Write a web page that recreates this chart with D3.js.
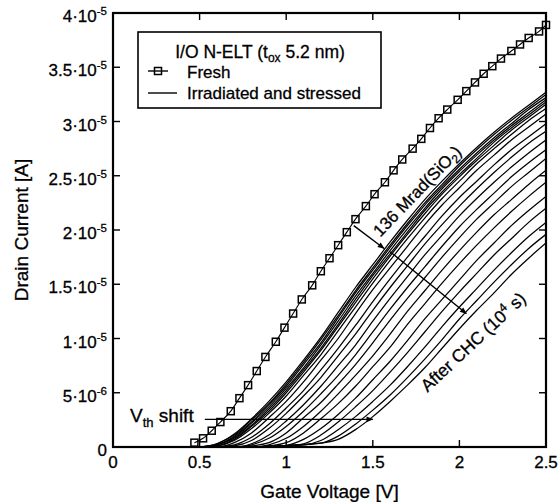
<!DOCTYPE html>
<meta charset="utf-8">
<style>
	body { margin: 0; background: #fff; }
	svg { display: block; font-family: "Liberation Sans", Arial, Helvetica, sans-serif; }
	svg text { fill: #000; stroke: #000; stroke-width: 0.3px; }
	.frame { fill: none; stroke: #000; stroke-width: 2.2px; }
	.tick { stroke: #000; stroke-width: 1.4px; }
	.curve { fill: none; stroke: #000; stroke-width: 1.25px; }
	.fresh { fill: none; stroke: #000; stroke-width: 1.1px; }
	.mark { fill: none; stroke: #000; stroke-width: 1.5px; }
	.arrow { stroke: #000; stroke-width: 1.4px; }
</style>
<body>
<svg id="chart" width="558" height="502"></svg>
<script src="https://cdn.jsdelivr.net/npm/d3@7/dist/d3.min.js"></script>
<script>
	// gate voltage grid of the stressed curves [V]
	var vGrid = [0.5,0.6,0.7,0.8,0.9,1.0,1.1,1.2,1.3,1.4,1.5,1.6,1.7,1.8,1.9,2.0,2.1,2.2,2.3,2.4,2.5];

	// irradiated (136 Mrad) then CHC stressed curves, drain current in uA on vGrid
	var stressed = [
		[0,0.3,1.2,2.6,4.2,6.0,8.0,10.1,12.4,14.7,16.8,18.9,20.9,22.8,24.5,26.1,27.6,29.0,30.3,31.5,32.7],
		[0,0.3,1.1,2.5,4.0,5.8,7.8,9.9,12.1,14.4,16.5,18.6,20.6,22.5,24.2,25.9,27.4,28.8,30.1,31.3,32.5],
		[0,0.2,1.0,2.3,3.9,5.6,7.6,9.6,11.9,14.2,16.3,18.4,20.4,22.3,24.0,25.6,27.1,28.5,29.8,31.1,32.2],
		[0,0.2,0.9,2.2,3.7,5.4,7.3,9.4,11.6,13.9,16.0,18.1,20.1,22.0,23.8,25.4,26.9,28.3,29.6,30.8,32.0],
		[0,0.2,0.8,2.0,3.5,5.2,7.1,9.1,11.3,13.6,15.8,17.8,19.8,21.8,23.5,25.1,26.6,28.1,29.4,30.6,31.8],
		[0,0.1,0.7,1.9,3.3,5.0,6.9,8.9,11.1,13.3,15.5,17.6,19.6,21.5,23.3,24.9,26.4,27.8,29.2,30.4,31.6],
		[0,0.1,0.6,1.7,3.1,4.7,6.6,8.5,10.7,12.9,15.1,17.2,19.2,21.1,22.9,24.5,26.1,27.5,28.8,30.1,31.2],
		[0,0,0.4,1.3,2.7,4.2,6.0,8.0,10.0,12.3,14.5,16.5,18.5,20.5,22.3,23.9,25.5,26.9,28.3,29.5,30.7],
		[0,0,0.2,0.9,2.1,3.6,5.2,7.1,9.1,11.2,13.4,15.5,17.5,19.4,21.3,23.0,24.5,26.0,27.4,28.6,29.8],
		[0,0,0.1,0.6,1.7,3.1,4.7,6.4,8.4,10.4,12.6,14.7,16.7,18.7,20.5,22.2,23.8,25.3,26.7,28.0,29.1],
		[0,0,0,0.3,1.1,2.4,3.9,5.6,7.5,9.4,11.6,13.7,15.7,17.7,19.5,21.3,22.9,24.4,25.8,27.1,28.3],
		[0,0,0,0.2,0.8,1.9,3.3,4.9,6.6,8.5,10.6,12.7,14.7,16.6,18.5,20.3,21.9,23.4,24.9,26.2,27.4],
		[0,0,0,0.1,0.4,1.3,2.7,4.1,5.8,7.6,9.6,11.7,13.7,15.6,17.5,19.3,21.0,22.5,24.0,25.3,26.6],
		[0,0,0,0,0.2,0.8,1.9,3.3,4.9,6.6,8.4,10.4,12.5,14.4,16.3,18.1,19.8,21.4,22.8,24.2,25.5],
		[0,0,0,0,0.1,0.4,1.3,2.6,4.0,5.6,7.4,9.2,11.3,13.2,15.1,16.9,18.6,20.2,21.7,23.1,24.4],
		[0,0,0,0,0.05,0.15,0.7,1.7,3.0,4.5,6.2,7.9,9.8,11.8,13.6,15.4,17.2,18.8,20.4,21.8,23.1],
		[0,0,0,0,0.05,0.12,0.3,1.1,2.3,3.7,5.2,6.9,8.7,10.6,12.5,14.3,16.0,17.7,19.2,20.7,22.0],
		[0,0,0,0,0.05,0.12,0.2,0.6,1.6,2.8,4.2,5.7,7.4,9.2,11.1,12.9,14.6,16.3,17.9,19.4,20.7],
		[0,0,0,0,0.05,0.12,0.22,0.35,1.0,2.1,3.4,4.8,6.4,8.1,9.9,11.8,13.5,15.2,16.8,18.3,19.6],
		[0,0,0,0,0.05,0.12,0.22,0.35,0.7,1.6,2.8,4.2,5.7,7.3,9.1,10.9,12.6,14.2,15.9,17.4,18.8]
	];

	// fresh device (markers)
	var freshV = [0.47,0.52,0.57,0.62,0.68,0.73,0.78,0.83,0.88,0.94,0.99,1.04,1.09,1.15,1.20,1.25,1.30,1.35,1.40,1.46,
		1.51,1.57,1.62,1.67,1.73,1.78,1.83,1.88,1.93,1.99,2.04,2.09,2.14,2.19,2.24,2.30,2.35,2.40,2.46,2.50];
	var freshI = [0.4,0.8,1.5,2.3,3.3,4.5,5.7,7.0,8.3,9.7,11.0,12.3,13.6,14.9,16.2,17.4,18.6,19.8,21.0,22.2,
		23.3,24.4,25.5,26.5,27.5,28.4,29.4,30.3,31.1,32.0,32.8,33.6,34.4,35.1,35.8,36.5,37.1,37.7,38.3,38.9];

	// axes
	var xTicks = [0, 0.5, 1, 1.5, 2, 2.5];
	var xTickLabels = ["0", "0.5", "1", "1.5", "2", "2.5"];
	var yTicks = [0, 5, 10, 15, 20, 25, 30, 35, 40]; // uA
	var yTickMant = ["0", "5", "1", "1.5", "2", "2.5", "3", "3.5", "4"];
	var yTickExp = ["", "-6", "-5", "-5", "-5", "-5", "-5", "-5", "-5"];

	var pLeft = 113, pRight = 546, pTop = 13, pBottom = 447;

	var x = d3.scaleLinear().domain([0, 2.5]).range([pLeft, pRight]);
	var y = d3.scaleLinear().domain([0, 40]).range([pBottom, pTop]);

	var svg = d3.select("#chart");
	svg.append("rect").attr("width", 558).attr("height", 502).attr("fill", "#fff");

	var defs = svg.append("defs");
	defs.append("clipPath").attr("id", "plotclip")
		.append("rect").attr("x", pLeft).attr("y", pTop).attr("width", pRight - pLeft).attr("height", pBottom - pTop);
	defs.append("marker").attr("id", "head")
		.attr("viewBox", "0 0 10 10").attr("refX", 9).attr("refY", 5)
		.attr("markerWidth", 8).attr("markerHeight", 7).attr("markerUnits", "userSpaceOnUse")
		.attr("orient", "auto")
		.append("path").attr("d", "M0,1 L10,5 L0,9 Z").attr("fill", "#000");

	var plot = svg.append("g").attr("clip-path", "url(#plotclip)");

	// stressed family
	var line = d3.line()
		.x(function(d, i) { return x(vGrid[i]); })
		.y(function(d) { return y(d); })
		.curve(d3.curveMonotoneX);

	plot.selectAll("path.curve")
		.data(stressed)
		.enter().append("path")
		.attr("class", "curve")
		.attr("d", line);

	// fresh curve
	var freshLine = d3.line()
		.x(function(d) { return x(d); })
		.y(function(d, i) { return y(freshI[i]); })
		.curve(d3.curveMonotoneX);

	plot.append("path").attr("class", "fresh").attr("d", freshLine(freshV));

	var ms = 7;
	svg.selectAll("rect.mark")
		.data(freshV)
		.enter().append("rect")
		.attr("class", "mark")
		.attr("x", function(d) { return x(d) - ms / 2; })
		.attr("y", function(d, i) { return y(freshI[i]) - ms / 2; })
		.attr("width", ms).attr("height", ms);

	// frame and inward ticks
	svg.append("rect").attr("class", "frame")
		.attr("x", pLeft).attr("y", pTop).attr("width", pRight - pLeft).attr("height", pBottom - pTop);

	var tl = 7;
	xTicks.forEach(function(t, i) {
		if (i > 0 && i < xTicks.length - 1) {
			svg.append("line").attr("class", "tick").attr("x1", x(t)).attr("x2", x(t)).attr("y1", pBottom).attr("y2", pBottom - tl);
			svg.append("line").attr("class", "tick").attr("x1", x(t)).attr("x2", x(t)).attr("y1", pTop).attr("y2", pTop + tl);
		}
		svg.append("text").attr("x", x(t)).attr("y", pBottom + 21)
			.attr("text-anchor", "middle").attr("font-size", 17).text(xTickLabels[i]);
	});

	yTicks.forEach(function(t, i) {
		if (i > 0 && i < yTicks.length - 1) {
			svg.append("line").attr("class", "tick").attr("x1", pLeft).attr("x2", pLeft + tl).attr("y1", y(t)).attr("y2", y(t));
			svg.append("line").attr("class", "tick").attr("x1", pRight).attr("x2", pRight - tl).attr("y1", y(t)).attr("y2", y(t));
		}
		var lab = svg.append("text").attr("x", pLeft - 6).attr("y", y(t) + 9)
			.attr("text-anchor", "end").attr("font-size", 17);
		if (yTickExp[i] === "") {
			lab.text(yTickMant[i]);
		} else {
			lab.append("tspan").text(yTickMant[i] + "\u00b710");
			lab.append("tspan").attr("dy", -7).attr("font-size", 11.5).text(yTickExp[i]);
		}
	});

	// axis titles
	svg.append("text").attr("x", (pLeft + pRight) / 2).attr("y", 498)
		.attr("text-anchor", "middle").attr("font-size", 19).text("Gate Voltage [V]");
	svg.append("text").attr("transform", "translate(28," + ((pTop + pBottom) / 2) + ") rotate(-90)")
		.attr("text-anchor", "middle").attr("font-size", 19).text("Drain Current [A]");

	// legend
	var lg = svg.append("g");
	lg.append("rect").attr("x", 138).attr("y", 32).attr("width", 243).attr("height", 76)
		.attr("fill", "#fff").attr("stroke", "#000").attr("stroke-width", 1.6);
	var lt = lg.append("text").attr("x", 260).attr("y", 58).attr("text-anchor", "middle").attr("font-size", 17.5);
	lt.append("tspan").text("I/O N-ELT (t");
	lt.append("tspan").attr("dy", 4).attr("font-size", 12).text("ox");
	lt.append("tspan").attr("dy", -4).text(" 5.2 nm)");
	lg.append("line").attr("x1", 148).attr("x2", 168).attr("y1", 71).attr("y2", 71).attr("stroke", "#000").attr("stroke-width", 1.4);
	lg.append("rect").attr("class", "mark").attr("x", 158 - ms / 2).attr("y", 71 - ms / 2).attr("width", ms).attr("height", ms);
	lg.append("text").attr("x", 187).attr("y", 78).attr("font-size", 17).text("Fresh");
	lg.append("line").attr("x1", 148).attr("x2", 177).attr("y1", 93).attr("y2", 93).attr("stroke", "#000").attr("stroke-width", 1.4);
	lg.append("text").attr("x", 187).attr("y", 99).attr("font-size", 17).text("Irradiated and stressed");

	// annotations
	svg.append("line").attr("class", "arrow")
		.attr("x1", x(0.53)).attr("y1", y(2.55)).attr("x2", x(1.5)).attr("y2", y(2.55))
		.attr("marker-end", "url(#head)");
	var vt = svg.append("text").attr("x", 130).attr("y", 422).attr("font-size", 19);
	vt.append("tspan").text("V");
	vt.append("tspan").attr("dy", 5).attr("font-size", 13).text("th");
	vt.append("tspan").attr("dy", -5).text(" shift");

	svg.append("line").attr("class", "arrow")
		.attr("x1", x(1.39)).attr("y1", y(20.4)).attr("x2", x(1.565)).attr("y2", y(18.3))
		.attr("marker-end", "url(#head)");
	svg.append("line").attr("class", "arrow")
		.attr("x1", x(1.6)).attr("y1", y(18.0)).attr("x2", x(2.04)).attr("y2", y(12.3))
		.attr("marker-end", "url(#head)");

	var t1 = svg.append("text").attr("transform", "translate(417,191) rotate(-46)")
		.attr("text-anchor", "middle").attr("dy", "0.35em").attr("font-size", 17);
	t1.append("tspan").text("136 Mrad(SiO");
	t1.append("tspan").attr("dy", 4).attr("font-size", 12).text("2");
	t1.append("tspan").attr("dy", -4).text(")");

	var t2 = svg.append("text").attr("transform", "translate(473,342) rotate(-43)")
		.attr("text-anchor", "middle").attr("dy", "0.35em").attr("font-size", 17.5);
	t2.append("tspan").text("After CHC (10");
	t2.append("tspan").attr("dy", -7).attr("font-size", 12).text("4");
	t2.append("tspan").attr("dy", 7).text(" s)");
</script>
</body>
